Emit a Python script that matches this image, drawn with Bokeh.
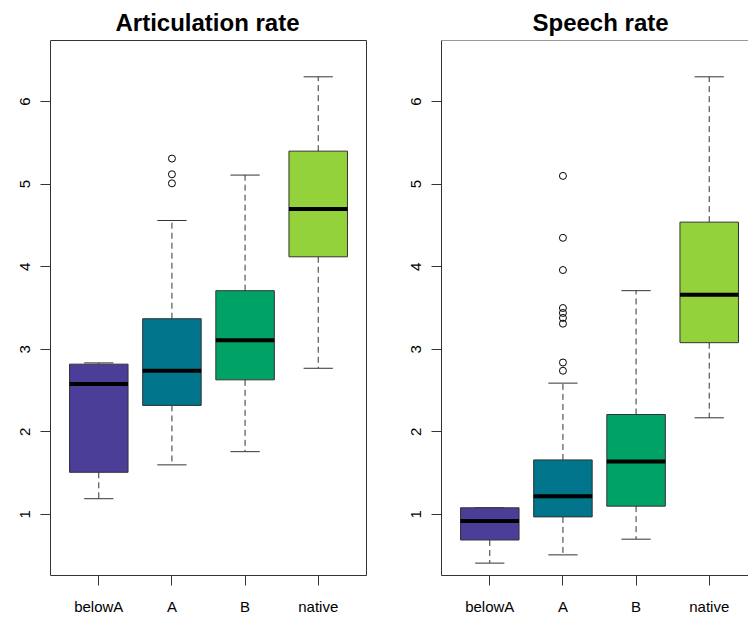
from bokeh.plotting import figure
from bokeh.models import Range1d, FixedTicker, Span
from bokeh.layouts import row
from bokeh.embed import file_html
from bokeh.resources import INLINE

categories = ["belowA", "A", "B", "native"]
positions = [1, 2, 3, 4]
colors = ["#4A3E98", "#01758C", "#00A265", "#93D23B"]
y_ticks = [1, 2, 3, 4, 5, 6]

# Articulation rate
art_lower = [1.19, 1.60, 1.76, 2.77]
art_q1 = [1.51, 2.32, 2.63, 4.12]
art_median = [2.58, 2.74, 3.11, 4.70]
art_q3 = [2.82, 3.37, 3.71, 5.40]
art_upper = [2.835, 4.56, 5.11, 6.30]
art_out_group = [2, 2, 2]
art_out_value = [5.01, 5.12, 5.31]

# Speech rate
sp_lower = [0.41, 0.51, 0.70, 2.17]
sp_q1 = [0.69, 0.97, 1.10, 3.08]
sp_median = [0.92, 1.22, 1.64, 3.66]
sp_q3 = [1.08, 1.66, 2.21, 4.54]
sp_upper = [1.08, 2.59, 3.71, 6.30]
sp_out_group = [2, 2, 2, 2, 2, 2, 2, 2, 2]
sp_out_value = [2.74, 2.84, 3.31, 3.38, 3.44, 3.50, 3.96, 4.35, 5.10]

FONT = "Liberation Sans"
LINE = "#333333"
Y0, Y1 = 0.26, 6.74
X0, X1 = 0.34, 4.66
H = 619
TOP = 40
BOTTOM = 44
LEFT_FRAME_W = 316
PX_PER_UNIT = LEFT_FRAME_W / (X1 - X0)


def panel(title, lower, q1, med, q3, upper, out_g, out_v, width, mb_left, mb_right,
          frame_w, title_offset, right_cut):
    x_end = X0 + frame_w / PX_PER_UNIT
    p = figure(width=width, height=H, output_backend="svg", toolbar_location=None,
               x_range=Range1d(X0, x_end), y_range=Range1d(Y0, Y1),
               min_border_left=mb_left, min_border_right=mb_right,
               min_border_top=TOP, min_border_bottom=BOTTOM)
    p.background_fill_color = "white"
    p.border_fill_color = "white"
    p.grid.visible = False

    p.title.text = title
    p.title.align = "left"
    p.title.offset = title_offset
    p.title.text_font = FONT
    p.title.text_font_size = "24px"
    p.title.text_font_style = "bold"
    p.title.text_color = "black"
    p.title.standoff = 10

    # whiskers
    p.segment(x0=positions, y0=q3, x1=positions, y1=upper, line_color=LINE,
              line_width=1, line_dash="6 4")
    p.segment(x0=positions, y0=q1, x1=positions, y1=lower, line_color=LINE,
              line_width=1, line_dash="6 4")
    # staples
    p.segment(x0=[x - 0.2 for x in positions], y0=upper,
              x1=[x + 0.2 for x in positions], y1=upper, line_color=LINE, line_width=1)
    p.segment(x0=[x - 0.2 for x in positions], y0=lower,
              x1=[x + 0.2 for x in positions], y1=lower, line_color=LINE, line_width=1)
    # boxes
    p.vbar(x=positions, width=0.8, bottom=q1, top=q3, fill_color=colors,
           line_color=LINE, line_width=1)
    # medians
    p.segment(x0=[x - 0.4 for x in positions], y0=med,
              x1=[x + 0.4 for x in positions], y1=med, line_color="black", line_width=4)
    # outliers
    p.scatter(x=out_g, y=out_v, marker="circle", size=7, fill_color=None,
              line_color="black", line_width=1)

    for ax in (p.xaxis, p.yaxis):
        ax.major_tick_out = 10
        ax.major_tick_in = 0
        ax.minor_tick_line_color = None
        ax.major_tick_line_color = LINE
        ax.major_label_text_font = FONT
        ax.major_label_text_font_size = "15px"
        ax.major_label_text_color = "black"
    p.yaxis.ticker = FixedTicker(ticks=y_ticks)
    p.yaxis.major_label_orientation = "vertical"
    p.yaxis.major_label_standoff = 10
    p.xaxis.ticker = FixedTicker(ticks=positions)
    p.xaxis.major_label_overrides = {x: c for x, c in zip(positions, categories)}
    p.xaxis.major_label_standoff = 12

    if right_cut:
        p.outline_line_color = None
        p.xaxis.axis_line_color = LINE
        p.yaxis.axis_line_color = LINE
        p.add_layout(Span(location=Y1, dimension="width", line_color=LINE, line_width=1))
    else:
        p.outline_line_color = LINE
        p.outline_line_width = 1
        p.xaxis.axis_line_color = None
        p.yaxis.axis_line_color = None
    return p


W1 = 404
W_TOTAL = 748
p1 = panel("Articulation rate", art_lower, art_q1, art_median, art_q3, art_upper,
           art_out_group, art_out_value, W1, 50, 38, LEFT_FRAME_W, 65, False)
W2 = W_TOTAL - W1
p2 = panel("Speech rate", sp_lower, sp_q1, sp_median, sp_q3, sp_upper,
           sp_out_group, sp_out_value, W2, 37, 0, W2 - 37, 91, True)

layout = row(p1, p2)
open("out.html", "w").write(file_html(layout, INLINE))
